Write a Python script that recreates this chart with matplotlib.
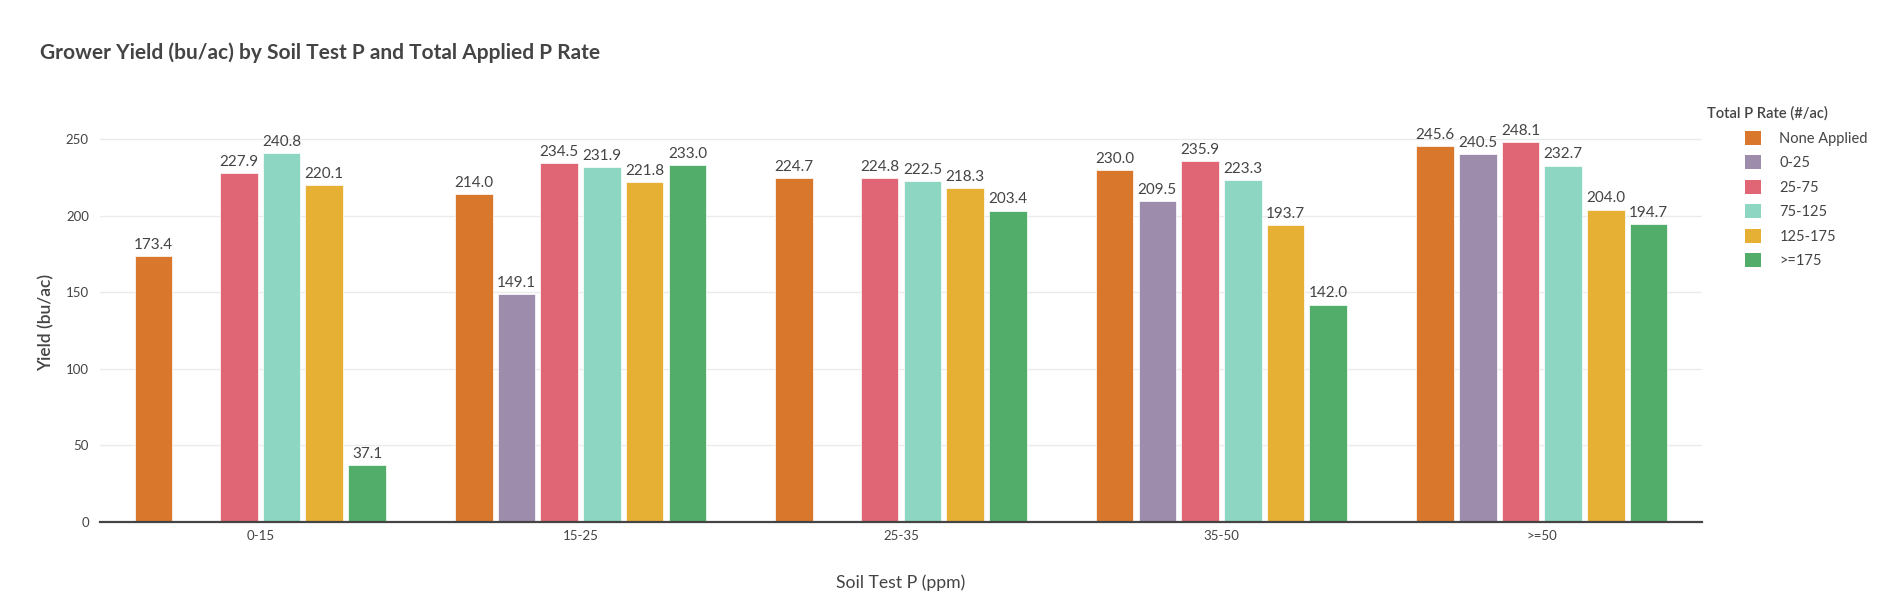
import matplotlib
matplotlib.use("Agg")
import matplotlib.pyplot as plt
import numpy as np
from matplotlib.patches import Patch

plt.rcParams['font.family'] = ['Lato', 'DejaVu Sans']

categories = ["0-15", "15-25", "25-35", "35-50", ">=50"]
series_names = ["None Applied", "0-25", "25-75", "75-125", "125-175", ">=175"]
none_applied = [173.4, 214.0, 224.7, 230.0, 245.6]
rate_0_25 = [np.nan, 149.1, np.nan, 209.5, 240.5]
rate_25_75 = [227.9, 234.5, 224.8, 235.9, 248.1]
rate_75_125 = [240.8, 231.9, 222.5, 223.3, 232.7]
rate_125_175 = [220.1, 221.8, 218.3, 193.7, 204.0]
rate_175_up = [37.1, 233.0, 203.4, 142.0, 194.7]
colors = ["#d9782d", "#9e8cad", "#e16675", "#8dd6c2", "#e5b033", "#52ad6b"]

series = [none_applied, rate_0_25, rate_25_75, rate_75_125, rate_125_175, rate_175_up]

W, H = 1893, 615
fig = plt.figure(figsize=(W / 100, H / 100), dpi=100)
ax = fig.add_axes([100 / W, 1 - 522 / H, (1702 - 100) / W, (522 - 122) / H])

txt = "#444444"
n = len(series)
group_w = 0.8
slot = group_w / n
bar_w = slot * 0.88
x = np.arange(len(categories))
for i, (vals, c) in enumerate(zip(series, colors)):
    pos = x - group_w / 2 + slot * (i + 0.5)
    v = np.array(vals, dtype=float)
    ax.bar(pos, v, width=bar_w, color=c, edgecolor="#ffffff", linewidth=0.5, zorder=3)
    for p, val in zip(pos, v):
        if not np.isnan(val):
            ax.annotate(f"{val:.1f}", (p, val), xytext=(0, 3), textcoords="offset points",
                        ha="center", va="bottom", fontsize=11, color=txt, zorder=4)

ax.set_xlim(-0.5, len(categories) - 0.5)
ax.set_ylim(0, 261.2)
ax.set_yticks([0, 50, 100, 150, 200, 250])
ax.set_xticks(x)
ax.set_xticklabels(categories)
ax.tick_params(axis="both", length=0, labelsize=9.5, colors=txt)
ax.tick_params(axis="x", pad=6)
ax.tick_params(axis="y", pad=8)
ax.grid(axis="y", color="#ebebeb", linewidth=1, zorder=0)
for s in ["top", "right", "left"]:
    ax.spines[s].set_visible(False)
ax.spines["bottom"].set_color("#444444")
ax.spines["bottom"].set_linewidth(1.6)
ax.spines["bottom"].set_zorder(5)

ax.set_xlabel("Soil Test P (ppm)", fontsize=12.7, color=txt, labelpad=23)
ax.set_ylabel("Yield (bu/ac)", fontsize=12.5, color=txt, fontweight="semibold", labelpad=8)

fig.text(40 / W, 1 - 53 / H, "Grower Yield (bu/ac) by Soil Test P and Total Applied P Rate",
         fontsize=15, fontweight="bold", color="#444444", ha="left", va="center")

fig.text(1707 / W, 1 - 113 / H, "Total P Rate (#/ac)", fontsize=10.6, fontweight="semibold",
         color=txt, ha="left", va="center")

handles = [Patch(facecolor=c, edgecolor="none") for c in colors]
leg = fig.legend(handles, series_names, loc="upper left", bbox_to_anchor=(1745 / W, 1 - 131 / H),
                 frameon=False, fontsize=10.5, borderpad=0, borderaxespad=0,
                 handlelength=1.1, handleheight=1.1, handletextpad=1.25, labelspacing=0.65)
for t in leg.get_texts():
    t.set_color(txt)

fig.savefig("out.png", dpi=100, facecolor="white")
